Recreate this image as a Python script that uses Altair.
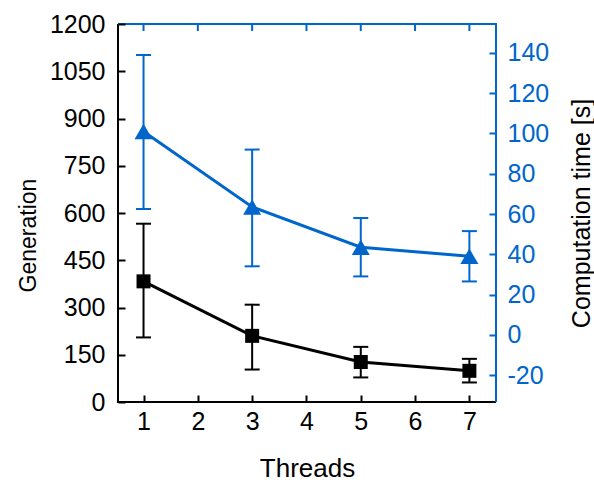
import altair as alt
import pandas as pd

# ---- data ----
threads = [1, 3, 5, 7]
gen_mean = [383, 210, 127, 99]
gen_lo = [205, 103, 78, 62]
gen_hi = [566, 309, 175, 137]
time_mean = [101, 63.5, 43.5, 39]
time_lo = [62.5, 34, 29, 26.5]
time_hi = [139, 92, 58, 51.5]

x_ticks = [1, 2, 3, 4, 5, 6, 7]
gen_ticks = [0, 150, 300, 450, 600, 750, 900, 1050, 1200]
time_ticks = [-20, 0, 20, 40, 60, 80, 100, 120, 140]

BLUE = "#0066CC"
FONT = "Liberation Sans"
W, H = 378, 378

df = pd.DataFrame({
    "threads": threads,
    "gen": gen_mean, "gen_lo": gen_lo, "gen_hi": gen_hi,
    "time": time_mean, "time_lo": time_lo, "time_hi": time_hi,
})
tick_df = pd.DataFrame({"threads": x_ticks})

xscale = alt.Scale(domain=[0.53, 7.49], nice=False, zero=False)
gscale = alt.Scale(domain=[0, 1200], nice=False, zero=False)
tscale = alt.Scale(domain=[-33.4, 154.4], nice=False, zero=False)

x_axis = alt.Axis(
    orient="bottom", offset=-7, domain=False, grid=False,
    values=x_ticks, format="d", tickSize=7, tickWidth=2, tickColor="black",
    labelColor="black", labelFontSize=25, labelFont=FONT, labelPadding=7,
    title="Threads", titleFont=FONT, titleFontSize=26, titleFontWeight="normal",
    titleColor="black", titleX=189, titleY=81, titleBaseline="alphabetic",
    titleAlign="center", zindex=2,
)
left_axis = alt.Axis(
    orient="left", offset=-7, domain=False, grid=False,
    values=gen_ticks, format="d", tickSize=7, tickWidth=2, tickColor="black",
    labelColor="black", labelFontSize=25, labelFont=FONT, labelPadding=13,
    title="Generation", titleFont=FONT, titleFontSize=23, titleFontWeight="normal",
    titleColor="black", titleX=-97, titleY=211, titleAngle=270,
    titleAlign="center", titleBaseline="middle", zindex=2,
)
right_axis = alt.Axis(
    orient="right", offset=-7, domain=False, grid=False,
    values=time_ticks, labelExpr="'' + datum.value",
    tickSize=7, tickWidth=2, tickColor=BLUE,
    labelColor=BLUE, labelFontSize=25, labelFont=FONT, labelPadding=11,
    title="Computation time [s]", titleFont=FONT, titleFontSize=25,
    titleFontWeight="normal", titleColor="black", titleX=92, titleY=189,
    titleAngle=270, titleAlign="center", titleBaseline="middle", zindex=2,
)

base = alt.Chart(df)
X = alt.X("threads:Q", scale=xscale, axis=x_axis)

gen_line = base.mark_line(color="black", strokeWidth=3).encode(
    x=X, y=alt.Y("gen:Q", scale=gscale, axis=left_axis))
gen_err = base.mark_rule(color="black", strokeWidth=2).encode(
    x=X, y=alt.Y("gen_lo:Q", scale=gscale, axis=None), y2="gen_hi:Q")
gen_cap_hi = base.mark_tick(color="black", orient="horizontal", size=15,
                            thickness=2, opacity=1).encode(
    x=X, y=alt.Y("gen_hi:Q", scale=gscale, axis=None))
gen_cap_lo = base.mark_tick(color="black", orient="horizontal", size=15,
                            thickness=2, opacity=1).encode(
    x=X, y=alt.Y("gen_lo:Q", scale=gscale, axis=None))
gen_pts = base.mark_point(shape="square", filled=True, size=196,
                          color="black", opacity=1).encode(
    x=X, y=alt.Y("gen:Q", scale=gscale, axis=None))

time_line = base.mark_line(color=BLUE, strokeWidth=3).encode(
    x=X, y=alt.Y("time:Q", scale=tscale, axis=right_axis))
time_err = base.mark_rule(color=BLUE, strokeWidth=2).encode(
    x=X, y=alt.Y("time_lo:Q", scale=tscale, axis=None), y2="time_hi:Q")
time_cap_hi = base.mark_tick(color=BLUE, orient="horizontal", size=15,
                             thickness=2, opacity=1).encode(
    x=X, y=alt.Y("time_hi:Q", scale=tscale, axis=None))
time_cap_lo = base.mark_tick(color=BLUE, orient="horizontal", size=15,
                             thickness=2, opacity=1).encode(
    x=X, y=alt.Y("time_lo:Q", scale=tscale, axis=None))
time_pts = base.mark_point(shape="triangle-up", filled=True, size=324,
                           color=BLUE, opacity=1).encode(
    x=X, y=alt.Y("time:Q", scale=tscale, axis=None))

frame_left = base.mark_rule(color="black", strokeWidth=2).encode(
    x=alt.value(0), y=alt.value(0), y2=alt.value(H + 1))
frame_bottom = base.mark_rule(color="black", strokeWidth=2).encode(
    x=alt.value(0), x2=alt.value(W), y=alt.value(H))
frame_top = base.mark_rule(color=BLUE, strokeWidth=2).encode(
    x=alt.value(0), x2=alt.value(W + 1), y=alt.value(0))
frame_right = base.mark_rule(color=BLUE, strokeWidth=2).encode(
    x=alt.value(W), y=alt.value(0), y2=alt.value(H))
top_ticks = alt.Chart(tick_df).mark_rule(color=BLUE, strokeWidth=2).encode(
    x=X, y=alt.value(0), y2=alt.value(7))

chart = alt.layer(
    gen_line, time_line,
    gen_err, gen_cap_hi, gen_cap_lo, gen_pts,
    time_err, time_cap_hi, time_cap_lo, time_pts,
    top_ticks, frame_left, frame_bottom, frame_top, frame_right,
).resolve_scale(y="independent").properties(
    width=W, height=H,
    padding={"left": 118, "top": 24, "right": 98, "bottom": 80},
    autosize=alt.AutoSizeParams(type="none"),
    background="white",
).configure_view(stroke=None)

chart.save("out.html", embed_options={"renderer": "svg", "actions": False})
